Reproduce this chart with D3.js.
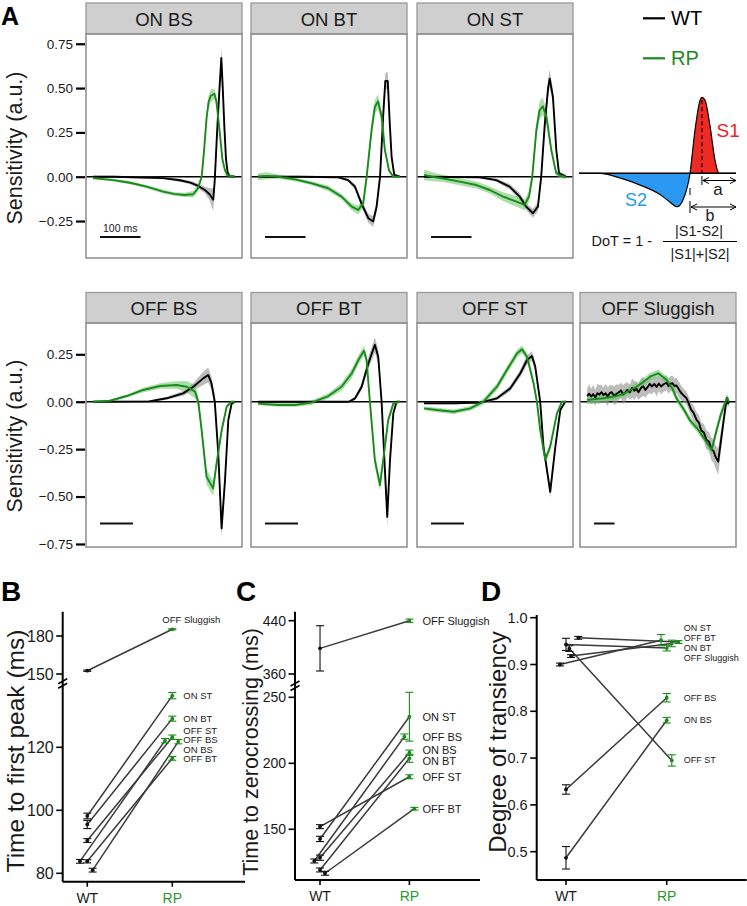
<!DOCTYPE html>
<html><head><meta charset="utf-8">
<script src="https://cdn.jsdelivr.net/npm/d3@7"></script>
<style>
body{margin:0;background:#fff;}
svg{display:block;font-family:"Liberation Sans",Arial,Helvetica,sans-serif;}
</style></head><body>
<svg id="fig" width="747" height="906"></svg>
<script>
// ================= DATA =================
const facets = ["ON BS","ON BT","ON ST","OFF BS","OFF BT","OFF ST","OFF Sluggish"];
const facetDuration = [350,350,350,430,430,430,690];   // ms shown in each filter
const scaleBarMs = 100;
const yTicksTop = [-0.25,0,0.25,0.5,0.75];
const yTicksBottom = [-0.75,-0.5,-0.25,0,0.25];
const seriesNames = ["WT","RP"];

// filters: [time (ms), sensitivity, sem]
const wtTraces = [
 [[-350,0,.005],[-300,0,.005],[-250,-.003,.005],[-177,-.008,.006],[-136,-.02,.008],[-110,-.033,.01],[-95,-.047,.012],[-74,-.075,.018],[-62,-.1,.035],[-53.5,-.13,.065],[-50,-.03,.05],[-44,.25,.04],[-38,.5,.05],[-33.5,.67,.06],[-30,.5,.045],[-26,.28,.03],[-22,.1,.02],[-18,.025,.01],[-13,.003,.005],[0,0,.004]],
 [[-350,0,.006],[-250,0,.005],[-152,-.003,.006],[-128,-.019,.01],[-111,-.056,.015],[-95,-.15,.02],[-78,-.234,.025],[-66,-.253,.03],[-57.5,-.169,.03],[-49,0,.03],[-41,.356,.04],[-36,.54,.045],[-30,.54,.05],[-25,.3,.035],[-20.5,.112,.02],[-14,.01,.01],[0,0,.005]],
 [[-350,0,.005],[-213,-.003,.006],[-172,-.019,.01],[-139,-.056,.015],[-114,-.112,.02],[-98,-.169,.02],[-81.5,-.206,.025],[-69,-.169,.025],[-61,0,.03],[-52.6,.281,.04],[-44,.5,.05],[-40,.553,.05],[-32,.45,.04],[-23.7,.15,.02],[-17,.02,.01],[0,0,.005]],
 [[-430,0,.004],[-260,.002,.004],[-207,.018,.008],[-157,.044,.012],[-126,.079,.02],[-96,.123,.035],[-81,.141,.04],[-71,.097,.035],[-61,0,.03],[-50.5,-.272,.04],[-40.4,-.668,.05],[-30,-.413,.04],[-20,-.097,.02],[-10,-.01,.01],[0,0,.005]],
 [[-430,0,.004],[-155,0,.004],[-136,.018,.01],[-116,.079,.02],[-96,.2,.03],[-76,.3,.04],[-65.7,.237,.04],[-55.5,0,.03],[-45.5,-.36,.04],[-38.4,-.607,.05],[-30,-.307,.03],[-20,-.061,.015],[-10,0,.005],[0,0,.005]],
 [[-430,-.008,.005],[-340,-.008,.005],[-260,-.005,.006],[-209,.018,.01],[-169,.07,.015],[-138,.15,.02],[-118,.22,.025],[-103,.241,.025],[-93,.185,.025],[-78,0,.02],[-68,-.237,.03],[-47.6,-.475,.03],[-32,-.237,.02],[-17,-.044,.01],[-2,0,.005],[0,0,.005]],
 [[-690,.03,.04],[-680,.042,.05],[-670,.028,.04],[-660,.04,.05],[-650,.022,.04],[-640,.045,.05],[-630,.038,.05],[-620,.05,.04],[-611,.036,.04],[-600,.044,.05],[-590,.028,.05],[-580,.045,.04],[-570,.05,.04],[-558,.03,.05],[-546,.042,.05],[-535,.05,.04],[-525,.06,.04],[-515,.038,.05],[-505,.048,.05],[-494,.062,.04],[-482,.05,.04],[-471,.072,.05],[-460,.058,.05],[-450,.068,.04],[-440,.05,.04],[-428,.072,.05],[-417,.082,.05],[-406,.062,.04],[-395,.078,.04],[-385,.095,.05],[-375,.08,.04],[-363,.094,.04],[-352,.078,.05],[-341,.096,.04],[-330,.08,.04],[-318,.092,.04],[-303,.1,.04],[-294,.082,.04],[-285,.094,.04],[-275,.098,.04],[-265,.083,.04],[-255,.086,.04],[-245,.068,.04],[-235,.05,.04],[-222,.035,.035],[-206,.018,.035],[-195,-.01,.035],[-185,-.04,.035],[-172,-.058,.04],[-157,-.097,.04],[-146,-.11,.04],[-135,-.15,.04],[-122,-.162,.045],[-109,-.202,.05],[-97,-.21,.05],[-85,-.25,.06],[-75,-.26,.06],[-65,-.29,.06],[-52,-.316,.07],[-38,-.2,.05],[-22,-.07,.03],[-10,.02,.02],[-5,-.01,.02],[0,0,.02]]
];
const rpTraces = [
 [[-350,-.008,.006],[-300,-.019,.008],[-259,-.034,.008],[-218,-.056,.009],[-177,-.084,.01],[-150,-.097,.01],[-125,-.103,.012],[-103,-.099,.018],[-91,-.065,.02],[-82,0,.02],[-76,.15,.03],[-70,.33,.03],[-65,.42,.035],[-60,.455,.035],[-51,.468,.03],[-46,.43,.03],[-42,.35,.03],[-37,.24,.025],[-31,.1,.015],[-25,.04,.01],[-19,.008,.006],[0,0,.005]],
 [[-350,0,.02],[-330,.005,.02],[-300,0,.012],[-259,-.015,.01],[-218,-.037,.01],[-177,-.065,.015],[-144,-.112,.015],[-119,-.169,.02],[-103,-.187,.025],[-90.5,-.15,.025],[-82,0,.03],[-70,.262,.04],[-62,.393,.04],[-54,.425,.04],[-45,.337,.03],[-37,.15,.02],[-27,.037,.01],[-16.5,0,.008],[0,0,.006]],
 [[-350,.01,.03],[-330,0,.025],[-303,-.01,.02],[-262,-.028,.02],[-221,-.047,.02],[-188,-.075,.02],[-155,-.112,.025],[-122,-.14,.03],[-102,-.159,.03],[-91,-.112,.03],[-83,0,.03],[-73,.262,.04],[-65,.375,.05],[-57,.397,.05],[-48,.337,.04],[-36,.15,.02],[-24,.02,.015],[-12,.005,.015],[0,0,.015]],
 [[-430,0,.005],[-379,.005,.006],[-328,.03,.008],[-278,.062,.012],[-227,.083,.015],[-177,.088,.02],[-146,.079,.03],[-121,.053,.035],[-111,0,.03],[-101,-.149,.03],[-86,-.396,.04],[-66,-.457,.04],[-55.5,-.325,.03],[-40,-.149,.02],[-25,-.026,.01],[-10,0,.005],[0,0,.005]],
 [[-430,-.01,.008],[-369,-.017,.01],[-318,-.017,.01],[-268,-.005,.012],[-217,.03,.015],[-177,.079,.02],[-146,.149,.025],[-126,.22,.025],[-109,.269,.025],[-101,.22,.025],[-91,0,.025],[-76,-.307,.03],[-60.6,-.44,.03],[-50.6,-.307,.025],[-35.4,-.097,.015],[-20,-.01,.008],[0,0,.005]],
 [[-430,-.035,.01],[-391,-.044,.012],[-340,-.053,.012],[-290,-.035,.012],[-250,0,.015],[-209,.079,.02],[-179,.167,.02],[-148,.255,.02],[-133,.276,.02],[-118,.237,.02],[-98,.097,.02],[-88,0,.02],[-78,-.149,.02],[-62.7,-.307,.02],[-47.6,-.237,.02],[-27,-.061,.01],[-12,0,.005],[0,0,.005]],
 [[-690,.009,.02],[-640,.015,.02],[-611,.018,.02],[-570,.025,.02],[-530,.035,.02],[-490,.055,.02],[-449,.079,.02],[-415,.105,.02],[-384,.132,.02],[-344,.15,.02],[-303,.114,.02],[-275,.07,.02],[-255,.018,.02],[-220,-.04,.02],[-190,-.097,.02],[-155,-.14,.02],[-125,-.185,.02],[-84,-.255,.025],[-60,-.15,.025],[-40,-.07,.025],[-20,-.01,.02],[-8,.02,.02],[0,0,.02]]
];

// schematic filter for the DoT definition (arbitrary units)
const schemT = [0,13.4,26,39,51.6,58,62.4,66.2,70.7,73.9,77.1,78.3,80.3,83.4,86.6,89.2,100];
const schemV = [0,0,-0.06,-0.155,-0.28,-0.38,-0.44,-0.35,0,0.57,0.96,1.0,0.96,0.63,0.175,0,0];

// B: time to first peak (ms)
const peakWT = [81.0, 95.5, 98.2, 83.8, 83.8, 90.4, 152.6];
const peakWTsem = [0.6, 1.3, 0.9, 0.6, 0.5, 0.6, 0.5];
const peakRP = [121.8, 129.1, 136.4, 122.1, 116.5, 123.2, 185.3];
const peakRPsem = [0.7, 0.8, 1.0, 0.7, 0.6, 0.7, 0.4];
const peakWTx = [1.063, 1, 1, 0.914, 1, 1, 1];
const peakRPx = [2.071, 2, 2, 1.914, 2, 2, 2];
const peakTicksLow = [80, 100, 120];
const peakTicksHigh = [150, 180];

// C: time to zero crossing (ms)
const zcWT = [128.5, 119.2, 142.7, 126.0, 116.7, 152.0, 398.5];
const zcWTsem = [2.0, 1.5, 2.0, 1.5, 1.5, 1.5, 34];
const zcRP = [208.0, 203.8, 235.3, 220.2, 165.6, 189.8, 440];
const zcRPsem = [2.0, 3.0, 18.5, 2.0, 1.0, 1.5, 2.5];
const zcWTx = [1, 1, 1, 0.936, 1.056, 1, 1];
const zcRPx = [2, 2, 2, 1.944, 2.056, 2, 2];
const zcTicksLow = [150, 200, 250];
const zcTicksHigh = [360, 440];

// D: degree of transiency
const dotWT = [0.487, 0.918, 0.900, 0.633, 0.957, 0.934, 0.943];
const dotWTsem = [0.024, 0.003, 0.003, 0.010, 0.003, 0.006, 0.013];
const dotRP = [0.781, 0.945, 0.952, 0.829, 0.948, 0.695, 0.935];
const dotRPsem = [0.006, 0.007, 0.012, 0.009, 0.003, 0.012, 0.006];
const dotWTx = [1, 1.05, 0.94, 1, 1.122, 1.033, 1];
const dotRPx = [2, 2.05, 1.944, 2, 2.116, 2.05, 2];
const dotTicks = [0.5, 0.6, 0.7, 0.8, 0.9, 1.0];

// ================= DRAWING =================
const svg = d3.select("#fig");
const FONT = '"Liberation Sans",Arial,Helvetica,sans-serif';
const WTC = "#000000", RPC = "#1a8a1a", RPTXT = "#2a9a2a";

// ---------- Panel A ----------
const PW = 156;
const rows = [
  {facets:[0,1,2], lefts:[86,251,417], stripTop:3, top:34, bottom:258, domain:[-0.4585,0.805], ticks:yTicksTop, barY:237, titleY:148},
  {facets:[3,4,5,6], lefts:[86,251,417,580], stripTop:292.5, top:323, bottom:547, domain:[-0.766,0.415], ticks:yTicksBottom, barY:523.5, titleY:436}
];
rows.forEach(row=>{
  const y = d3.scaleLinear().domain(row.domain).range([row.bottom,row.top]);
  const ax = svg.append("g").attr("transform",`translate(${row.lefts[0]-1},0)`)
    .call(d3.axisLeft(y).tickValues(row.ticks).tickFormat(d3.format(".2f")).tickSize(9).tickPadding(3));
  ax.select(".domain").remove();
  ax.selectAll(".tick line").attr("stroke","#000").attr("stroke-width",2.2);
  ax.selectAll(".tick text").attr("font-size",13.5).attr("font-family",FONT).attr("fill","#1a1a1a");
  svg.append("text").attr("transform",`translate(15,${row.titleY}) rotate(-90)`)
    .attr("text-anchor","middle").attr("dominant-baseline","central")
    .attr("font-size",21.5).attr("font-family",FONT).attr("fill","#1a1a1a").text("Sensitivity (a.u.)");
  row.facets.forEach((fi,k)=>{
    const L = row.lefts[k];
    const dur = facetDuration[fi];
    const x = d3.scaleLinear().domain([-dur*1.05, dur*0.05]).range([L, L+PW]);
    const g = svg.append("g");
    g.append("rect").attr("x",L).attr("y",row.stripTop).attr("width",PW).attr("height",row.top-row.stripTop)
      .attr("fill","#cfcfcf").attr("stroke","#9a9a9a").attr("stroke-width",1.3);
    g.append("text").attr("x",L+PW/2).attr("y",(row.stripTop+row.top)/2+1).attr("text-anchor","middle")
      .attr("dominant-baseline","central").attr("font-size",18.5).attr("font-family",FONT).attr("fill","#1a1a1a").text(facets[fi]);
    const cid = "clip"+fi;
    svg.append("clipPath").attr("id",cid).append("rect").attr("x",L).attr("y",row.top).attr("width",PW).attr("height",row.bottom-row.top);
    const pg = g.append("g").attr("clip-path",`url(#${cid})`);
    pg.append("line").attr("x1",L).attr("x2",L+PW).attr("y1",y(0)).attr("y2",y(0)).attr("stroke","#000").attr("stroke-width",1.6);
    const area = d3.area().x(d=>x(d[0])).y0(d=>y(d[1]-d[2])).y1(d=>y(d[1]+d[2]));
    const line = d3.line().x(d=>x(d[0])).y(d=>y(d[1]));
    pg.append("path").attr("d",area(wtTraces[fi])).attr("fill","#8f8f8f").attr("fill-opacity",0.6);
    pg.append("path").attr("d",area(rpTraces[fi])).attr("fill","#66c266").attr("fill-opacity",0.55);
    pg.append("path").attr("d",line(wtTraces[fi])).attr("fill","none").attr("stroke",WTC).attr("stroke-width",1.9).attr("stroke-linejoin","round");
    pg.append("path").attr("d",line(rpTraces[fi])).attr("fill","none").attr("stroke",RPC).attr("stroke-width",1.9).attr("stroke-linejoin","round");
    const bw = x(scaleBarMs) - x(0);
    g.append("line").attr("x1",L+14).attr("x2",L+14+bw).attr("y1",row.barY).attr("y2",row.barY).attr("stroke","#111").attr("stroke-width",2);
    if (fi===0) g.append("text").attr("x",L+14+bw/2).attr("y",row.barY-5).attr("text-anchor","middle")
      .attr("font-size",10.5).attr("font-family",FONT).attr("fill","#1a1a1a").text(scaleBarMs+" ms");
    g.append("rect").attr("x",L).attr("y",row.top).attr("width",PW).attr("height",row.bottom-row.top)
      .attr("fill","none").attr("stroke","#8c8c8c").attr("stroke-width",1.5);
  });
});
svg.append("text").attr("x",1).attr("y",25).attr("font-size",25).attr("font-weight","bold").attr("font-family",FONT).text("A");

// legend
[[seriesNames[0],WTC,18.3],[seriesNames[1],RPC,58.3]].forEach(([n,c,yy])=>{
  svg.append("line").attr("x1",643).attr("x2",665).attr("y1",yy).attr("y2",yy).attr("stroke",c).attr("stroke-width",2.2);
  svg.append("text").attr("x",671).attr("y",yy).attr("dominant-baseline","central").attr("font-size",20)
    .attr("font-family",FONT).attr("fill",n==="WT"?"#000":RPC).text(n);
});

// schematic
(function(){
  const sx = d3.scaleLinear().domain([0,100]).range([579,736]);
  const sy = d3.scaleLinear().domain([0,1]).range([173.3,97.3]);
  const pts = schemT.map((t,i)=>[t,schemV[i]]);
  const neg = pts.filter(p=>p[1]<=0 && p[0]>=13.4 && p[0]<=70.7);
  const pos = pts.filter(p=>p[1]>=0 && p[0]>=70.7 && p[0]<=89.2);
  const ar = d3.area().x(d=>sx(d[0])).y0(sy(0)).y1(d=>sy(d[1])).curve(d3.curveMonotoneX);
  svg.append("path").attr("d",ar(neg)).attr("fill","#2a97f0");
  svg.append("path").attr("d",ar(pos)).attr("fill","#ee2a24");
  svg.append("line").attr("x1",579).attr("x2",736).attr("y1",sy(0)).attr("y2",sy(0)).attr("stroke","#000").attr("stroke-width",1.5);
  svg.append("path").attr("d",d3.line().x(d=>sx(d[0])).y(d=>sy(d[1])).curve(d3.curveMonotoneX)(pts)).attr("fill","none").attr("stroke","#000").attr("stroke-width",1.2);
  const px = sx(78.3), zx = sx(70.7);
  svg.append("line").attr("x1",px).attr("x2",px).attr("y1",sy(0.96)).attr("y2",sy(0)).attr("stroke","#000").attr("stroke-width",1.2).attr("stroke-dasharray","4,3");
  function dbl(x1,x2,yy){
    svg.append("line").attr("x1",x1).attr("x2",x2).attr("y1",yy).attr("y2",yy).attr("stroke","#000").attr("stroke-width",1);
    [[x1,1],[x2,-1]].forEach(([xx,s])=>{
      svg.append("path").attr("d",`M${xx+s*6},${yy-3}L${xx},${yy}L${xx+s*6},${yy+3}`).attr("fill","none").attr("stroke","#000").attr("stroke-width",1);
    });
  }
  svg.append("line").attr("x1",px).attr("x2",px).attr("y1",176).attr("y2",185).attr("stroke","#000").attr("stroke-width",1);
  dbl(px+1,736,180.5);
  svg.append("line").attr("x1",zx).attr("x2",zx).attr("y1",188).attr("y2",195).attr("stroke","#000").attr("stroke-width",1);
  svg.append("line").attr("x1",zx).attr("x2",zx).attr("y1",201).attr("y2",213).attr("stroke","#000").attr("stroke-width",1);
  dbl(zx+1,736,207);
  const T = (x,y,s,fs,c,anchor)=>svg.append("text").attr("x",x).attr("y",y).attr("dominant-baseline","central")
      .attr("text-anchor",anchor||"start").attr("font-size",fs).attr("font-family",FONT).attr("fill",c||"#1a1a1a").text(s);
  T(716.5,130,"S1",19,"#e8261f");
  T(625,200,"S2",18,"#2a97f0");
  T(718,189.5,"a",17,"#1a1a1a","middle");
  T(710,215,"b",16,"#1a1a1a","middle");
  T(591.5,241,"DoT = 1 -",14.5);
  T(699,231,"|S1-S2|",14.5,"#1a1a1a","middle");
  svg.append("line").attr("x1",663).attr("x2",737).attr("y1",241.5).attr("y2",241.5).attr("stroke","#000").attr("stroke-width",1);
  T(700,253.5,"|S1|+|S2|",14.5,"#1a1a1a","middle");
})();

// ---------- Summary panels B, C, D ----------
function repel(items, gap){
  items.sort((a,b)=>a.y0-b.y0);
  let cl = items.map(d=>({m:[d], c:d.y0}));
  let changed = true;
  while(changed){
    changed=false;
    for(let i=0;i<cl.length-1;i++){
      const a=cl[i], b=cl[i+1];
      const aB = a.c + (a.m.length-1)*gap/2, bT = b.c - (b.m.length-1)*gap/2;
      if (bT - aB < gap){
        const m = a.m.concat(b.m);
        cl.splice(i,2,{m, c:d3.mean(m,v=>v.y0)});
        changed=true; break;
      }
    }
  }
  cl.forEach(c=>c.m.forEach((v,k)=>v.y = c.c + (k-(c.m.length-1)/2)*gap));
}

function summary(cfg){
  const g = svg.append("g");
  const x = d3.scaleLinear().domain(cfg.xdom).range([cfg.x0,cfg.x1]);
  const Y = cfg.Y;
  g.append("line").attr("x1",cfg.x0).attr("x2",cfg.x0).attr("y1",cfg.yTop).attr("y2",cfg.yBot).attr("stroke","#000").attr("stroke-width",2);
  g.append("line").attr("x1",cfg.x0).attr("x2",cfg.x1).attr("y1",cfg.yBot).attr("y2",cfg.yBot).attr("stroke","#000").attr("stroke-width",2);
  cfg.ticks.forEach(t=>{
    g.append("line").attr("x1",cfg.x0-6.5).attr("x2",cfg.x0).attr("y1",Y(t)).attr("y2",Y(t)).attr("stroke","#000").attr("stroke-width",1.6);
    g.append("text").attr("x",cfg.x0-9).attr("y",Y(t)).attr("text-anchor","end").attr("dominant-baseline","central")
      .attr("font-size",cfg.tickFs).attr("font-family",FONT).attr("fill","#1a1a1a").text(cfg.fmt(t));
  });
  seriesNames.forEach((n,i)=>{
    const xx = x(i+1);
    g.append("line").attr("x1",xx).attr("x2",xx).attr("y1",cfg.yBot).attr("y2",cfg.yBot+5).attr("stroke","#000").attr("stroke-width",1.6);
    g.append("text").attr("x",xx).attr("y",cfg.yBot+16).attr("text-anchor","middle").attr("dominant-baseline","central")
      .attr("font-size",14).attr("font-family",FONT).attr("fill",i===0?"#1a1a1a":RPTXT).text(n);
  });
  if (cfg.breakY){
    [0,4.5].forEach(o=>g.append("line").attr("x1",cfg.x0-4.5).attr("x2",cfg.x0+4.5).attr("y1",cfg.breakY+o+2).attr("y2",cfg.breakY+o-3)
      .attr("stroke","#000").attr("stroke-width",1.6));
  }
  g.append("text").attr("transform",`translate(${cfg.titleX},${cfg.titleY}) rotate(-90)`).attr("text-anchor","middle")
    .attr("dominant-baseline","central").attr("font-size",cfg.titleFs).attr("font-family",FONT).attr("fill","#1a1a1a").text(cfg.title);
  g.append("text").attr("x",cfg.letterX).attr("y",601).attr("font-size",28).attr("font-weight","bold").attr("font-family",FONT).text(cfg.letter);
  facets.forEach((f,i)=>{
    g.append("line").attr("x1",x(cfg.wtx[i])).attr("y1",Y(cfg.wt[i])).attr("x2",x(cfg.rpx[i])).attr("y2",Y(cfg.rp[i]))
      .attr("stroke","#3a3a3a").attr("stroke-width",1.5);
  });
  const eb = (xv,v,s,c)=>{
    const xx = x(xv), y1 = Y(v-s), y2 = Y(v+s);
    g.append("line").attr("x1",xx).attr("x2",xx).attr("y1",y1).attr("y2",y2).attr("stroke",c).attr("stroke-width",1.1);
    [y1,y2].forEach(yy=>g.append("line").attr("x1",xx-4).attr("x2",xx+4).attr("y1",yy).attr("y2",yy).attr("stroke",c).attr("stroke-width",1.1));
    g.append("circle").attr("cx",xx).attr("cy",Y(v)).attr("r",1.9).attr("fill",c);
  };
  facets.forEach((f,i)=>{ eb(cfg.wtx[i],cfg.wt[i],cfg.wtsem[i],"#111"); eb(cfg.rpx[i],cfg.rp[i],cfg.rpsem[i],RPC); });
  const items = facets.map((f,i)=>({f, i, y0:Y(cfg.rp[i])})).filter(d=>!(cfg.aboveLabel && d.f===cfg.aboveLabel));
  repel(items, cfg.gap);
  items.forEach(d=>{
    g.append("text").attr("x",x(2) + cfg.labelDx).attr("y",d.y).attr("dominant-baseline","central")
      .attr("font-size",cfg.labelFs).attr("font-family",FONT).attr("fill","#1a1a1a").text(d.f);
  });
  if (cfg.aboveLabel){
    const i = facets.indexOf(cfg.aboveLabel);
    g.append("text").attr("x",x(cfg.rpx[i])+19).attr("y",Y(cfg.rp[i])-10).attr("text-anchor","middle").attr("dominant-baseline","central")
      .attr("font-size",cfg.labelFs).attr("font-family",FONT).attr("fill","#1a1a1a").text(cfg.aboveLabel);
  }
}

// B
(function(){
  const low = d3.scaleLinear().domain([80,120]).range([873.3,747.3]);
  const high = d3.scaleLinear().domain([150,180]).range([674,636]);
  summary({letter:"B", letterX:1, x0:62.7, x1:245, xdom:[0.711,2.855], yTop:611.7, yBot:881.7,
    Y:v=> v>=143 ? high(v) : low(v), ticks:peakTicksLow.concat(peakTicksHigh), fmt:d3.format("d"), tickFs:16,
    breakY:681.7, title:"Time to first peak (ms)", titleX:15, titleY:751, titleFs:24.5,
    wt:peakWT, wtsem:peakWTsem, rp:peakRP, rpsem:peakRPsem, wtx:peakWTx, rpx:peakRPx,
    gap:9.5, labelDx:11, labelFs:9.5, aboveLabel:"OFF Sluggish"});
})();
// C
(function(){
  const low = d3.scaleLinear().domain([150,250]).range([829.3,697.3]);
  const high = d3.scaleLinear().domain([360,440]).range([674,620.7]);
  summary({letter:"C", letterX:236, x0:295, x1:480, xdom:[0.72,2.79], yTop:611.7, yBot:880,
    Y:v=> v>=300 ? high(v) : low(v), ticks:zcTicksLow.concat(zcTicksHigh), fmt:d3.format("d"), tickFs:14,
    breakY:684, title:"Time to zerocrossing (ms)", titleX:251, titleY:752, titleFs:21.5,
    wt:zcWT, wtsem:zcWTsem, rp:zcRP, rpsem:zcRPsem, wtx:zcWTx, rpx:zcRPx,
    gap:11, labelDx:13, labelFs:11});
})();
// D
(function(){
  const y = d3.scaleLinear().domain([0.5,1.0]).range([851.7,617.7]);
  summary({letter:"D", letterX:481, x0:536.7, x1:746.7, xdom:[0.709,2.794], yTop:615, yBot:880,
    Y:y, ticks:dotTicks, fmt:d3.format(".1f"), tickFs:14.5,
    breakY:null, title:"Degree of transiency", titleX:497, titleY:742, titleFs:24,
    wt:dotWT, wtsem:dotWTsem, rp:dotRP, rpsem:dotRPsem, wtx:dotWTx, rpx:dotRPx,
    gap:10, labelDx:17, labelFs:9});
})();
</script>
</body></html>
